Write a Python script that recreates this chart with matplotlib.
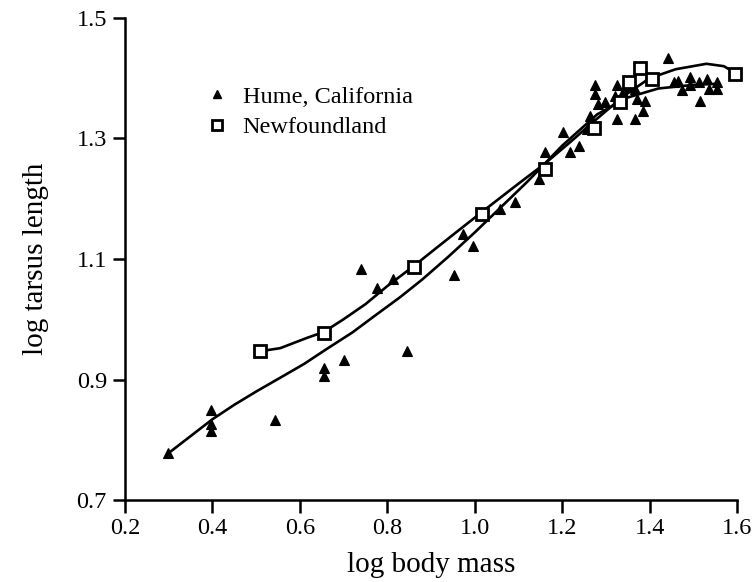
import matplotlib
matplotlib.use("Agg")
import matplotlib.pyplot as plt
from matplotlib.lines import Line2D

plt.rcParams['font.family'] = ['Liberation Serif', 'DejaVu Serif']

# Hume, California (filled triangles)
hume_x = [0.299, 0.397, 0.397, 0.397, 0.543, 0.655, 0.655, 0.700, 0.740, 0.776,
          0.814, 0.845, 0.953, 0.974, 0.996, 1.058, 1.092, 1.146, 1.161, 1.203,
          1.218, 1.238, 1.257, 1.264, 1.282, 1.276, 1.276, 1.298, 1.325, 1.321,
          1.340, 1.345, 1.360, 1.367, 1.371, 1.390, 1.325, 1.367, 1.386, 1.443,
          1.457, 1.466, 1.474, 1.493, 1.493, 1.512, 1.516, 1.531, 1.535, 1.554,
          1.554]
hume_y = [0.778, 0.850, 0.826, 0.815, 0.833, 0.919, 0.905, 0.933, 1.083, 1.052,
          1.066, 0.947, 1.074, 1.141, 1.121, 1.183, 1.194, 1.232, 1.277, 1.310,
          1.277, 1.288, 1.316, 1.338, 1.358, 1.388, 1.374, 1.361, 1.388, 1.371,
          1.377, 1.385, 1.390, 1.382, 1.366, 1.363, 1.332, 1.332, 1.346, 1.434,
          1.393, 1.396, 1.380, 1.402, 1.388, 1.393, 1.363, 1.399, 1.382, 1.393,
          1.382]

# Newfoundland (open squares)
newf_x = [0.509, 0.655, 0.861, 1.016, 1.161, 1.272, 1.333, 1.352, 1.378, 1.405, 1.596]
newf_y = [0.947, 0.977, 1.087, 1.175, 1.250, 1.318, 1.361, 1.393, 1.417, 1.398, 1.407]

# Fitted curves
hume_curve_x = [0.30, 0.35, 0.40, 0.45, 0.50, 0.56, 0.61, 0.66, 0.72, 0.77, 0.83, 0.88,
                0.94, 1.00, 1.06, 1.12, 1.20, 1.28, 1.35, 1.42, 1.50, 1.56]
hume_curve_y = [0.778, 0.806, 0.834, 0.858, 0.880, 0.905, 0.926, 0.950, 0.978, 1.005,
                1.037, 1.066, 1.104, 1.144, 1.186, 1.228, 1.288, 1.340, 1.368, 1.383,
                1.389, 1.391]
newf_curve_x = [0.51, 0.555, 0.616, 0.655, 0.70, 0.75, 0.80, 0.86, 0.91, 0.95, 1.02,
                1.10, 1.16, 1.22, 1.28, 1.34, 1.40, 1.46, 1.53, 1.57, 1.60]
newf_curve_y = [0.947, 0.952, 0.969, 0.979, 1.000, 1.025, 1.055, 1.088, 1.117, 1.140,
                1.180, 1.225, 1.258, 1.295, 1.333, 1.370, 1.400, 1.415, 1.424, 1.420,
                1.407]

xticks = [0.2, 0.4, 0.6, 0.8, 1.0, 1.2, 1.4, 1.6]
yticks = [0.7, 0.9, 1.1, 1.3, 1.5]

fig = plt.figure(figsize=(7.54, 5.82), dpi=100)
ax = fig.add_axes([125/754, 82/582, 612/754, 482/582])

ax.plot(hume_curve_x, hume_curve_y, color='black', lw=1.9, solid_capstyle='round', zorder=2)
ax.plot(newf_curve_x, newf_curve_y, color='black', lw=1.9, solid_capstyle='round', zorder=2)
ax.plot(hume_x, hume_y, linestyle='none', marker='^', ms=7, mfc='black', mec='black',
        mew=0.8, zorder=3, clip_on=False)
ax.plot(newf_x, newf_y, linestyle='none', marker='s', ms=8, mfc='white', mec='black',
        mew=2.0, zorder=4, clip_on=False)

ax.set_xlim(0.2, 1.6)
ax.set_ylim(0.7, 1.5)
ax.set_xticks(xticks)
ax.set_yticks(yticks)
ax.set_xticklabels([f"{v:.1f}" for v in xticks])
ax.set_yticklabels([f"{v:.1f}" for v in yticks])

for s in ['top', 'right']:
    ax.spines[s].set_visible(False)
for s in ['left', 'bottom']:
    ax.spines[s].set_linewidth(1.8)
ax.tick_params(direction='out', length=9, width=1.8, labelsize=17.5, pad=4)

ax.set_xlabel('log body mass', fontsize=21, labelpad=9)
ax.set_ylabel('log tarsus length', fontsize=21, labelpad=20)

handles = [Line2D([], [], linestyle='none', marker='^', ms=5.5, mfc='black', mec='black'),
           Line2D([], [], linestyle='none', marker='s', ms=7, mfc='white', mec='black', mew=2.0)]
ax.legend(handles, ['Hume, California', 'Newfoundland'], loc='upper left',
          bbox_to_anchor=(0.095, 0.905), frameon=False, fontsize=17.5,
          handlelength=1.0, handletextpad=0.55, labelspacing=0.35)

fig.savefig('out.png', dpi=100)
